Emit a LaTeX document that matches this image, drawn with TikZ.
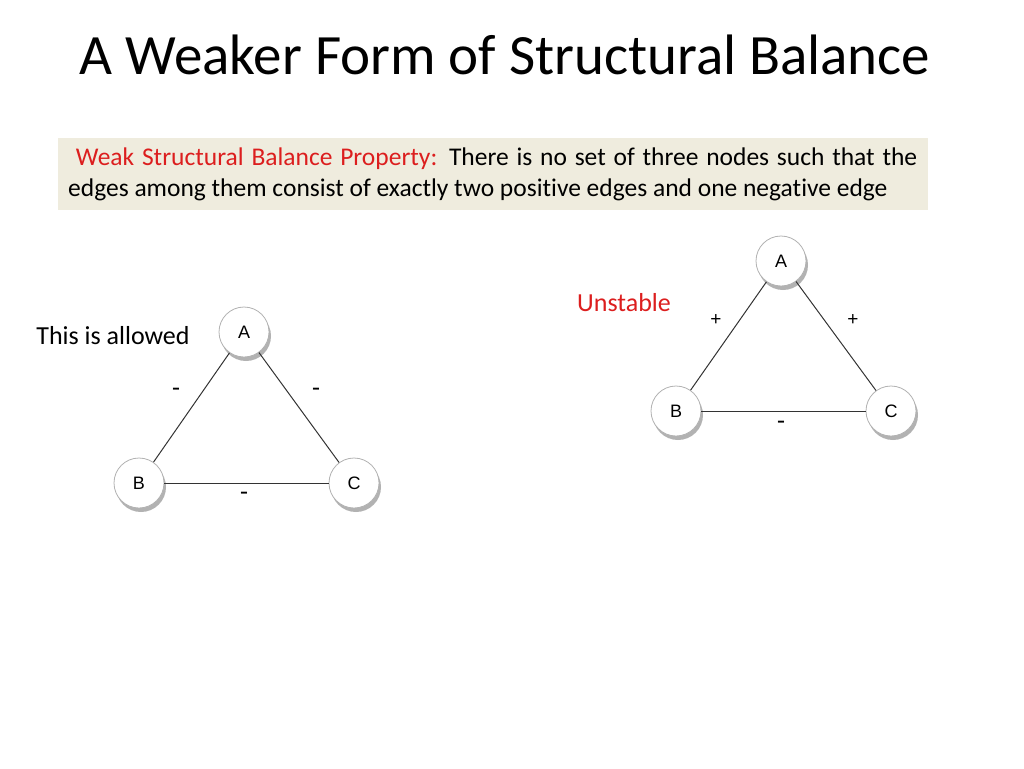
\documentclass[tikz,border=0pt]{standalone}
\usepackage{fontspec}
\setmainfont[Ligatures=NoCommon]{Carlito}
\newfontfamily\nodefont{Liberation Sans}
\usetikzlibrary{shadows}
\begin{document}
\begin{tikzpicture}[x=1pt,y=-1pt,
  gnode/.style={circle,draw=gray!60,line width=0.8pt,fill=white,minimum size=50pt,inner sep=0pt,font=\nodefont\fontsize{18}{18}\selectfont,
    drop shadow={shadow xshift=2pt,shadow yshift=-4pt,fill=black!60,opacity=0.5}},
  edge/.style={draw=black!80,line width=1pt},
  lbl/.style={font=\fontsize{26}{26}\selectfont}]
\useasboundingbox (0,0) rectangle (1024,768);
\node[font=\fontsize{57}{57}\selectfont,anchor=west] (title) at (76,55) {A Weaker Form of Structural Balance};
\fill[fill={rgb,255:red,239;green,236;blue,222}] (58,138) rectangle (928,210);
\node[anchor=west,font=\fontsize{25.5}{25.5}\selectfont,inner sep=0pt] (l1) at (68,159) {\makebox[849pt][s]{\textcolor[RGB]{220,30,30}{\ Weak Structural Balance Property:} There is no set of three nodes such that the}};
\node[anchor=west,font=\fontsize{25.5}{25.5}\selectfont,inner sep=0pt] (l2) at (68,190) {edges among them consist of exactly two positive edges and one negative edge};
% left
\node[gnode] (A1) at (244,332) {A};
\node[gnode] (B1) at (139,483) {B};
\node[gnode] (C1) at (354,483) {C};
\draw[edge] (A1) -- (B1); \draw[edge] (A1) -- (C1); \draw[edge] (B1) -- (C1);
\node[lbl] (m1) at (176,392) {-};
\node[lbl] (m2) at (316,392) {-};
\node[lbl] (m3) at (244,496) {-};
\node[lbl] (allow) at (113,336) {This is allowed};
% right
\node[gnode] (A2) at (781,261) {A};
\node[gnode] (B2) at (676,411) {B};
\node[gnode] (C2) at (891,411) {C};
\draw[edge] (A2) -- (B2); \draw[edge] (A2) -- (C2); \draw[edge] (B2) -- (C2);
\node[font=\nodefont\fontsize{19}{19}\selectfont] (p1) at (716,320) {+};
\node[font=\nodefont\fontsize{19}{19}\selectfont] (p2) at (853,320) {+};
\node[lbl] (m4) at (781,425) {-};
\node[lbl,text={rgb,255:red,220;green,30;blue,30}] (unst) at (624,303) {Unstable};
\end{tikzpicture}
\end{document}
